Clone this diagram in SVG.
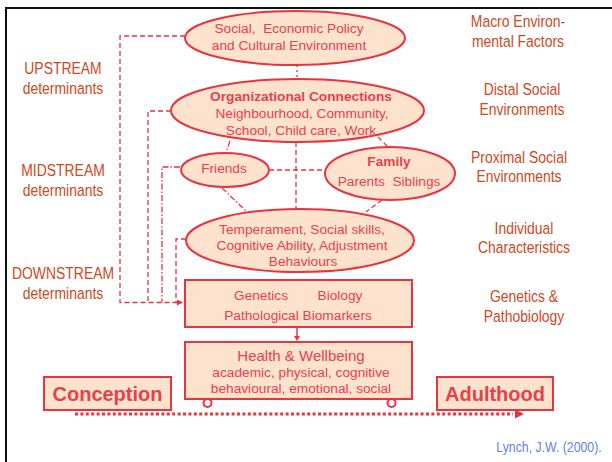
<svg xmlns="http://www.w3.org/2000/svg" width="612" height="462" viewBox="0 0 612 462">
<style>
.shape{fill:#FDE3CD;stroke:#E8343F;stroke-width:2}
.nt{font-family:"Liberation Sans",Arial,sans-serif;font-size:13.7px;fill:#E8404C;text-anchor:middle;white-space:pre}
.b{font-weight:bold}
.lab{font-family:"Liberation Sans",Arial,sans-serif;font-size:17px;fill:#D0481C;text-anchor:middle}
.dash{fill:none;stroke:#E8343F;stroke-width:1.3;stroke-dasharray:5 3}
.dd{fill:none;stroke:#E8343F;stroke-width:1.3;stroke-dasharray:6 2 1.5 2}
</style>
<defs>
<marker id="ah" markerWidth="6" markerHeight="6" refX="5" refY="3" orient="auto" markerUnits="userSpaceOnUse">
<path d="M0,0 L6,3 L0,6 Z" fill="#E8343F"/>
</marker>
</defs>
<rect width="612" height="462" fill="#fff"/>
<path d="M6,462 L6,8 L612,8" fill="none" stroke="#111" stroke-width="2"/>

<g id="left-labels">
<text class="lab" transform="translate(63,74) scale(0.82,1)">UPSTREAM</text>
<text class="lab" transform="translate(63,94) scale(0.82,1)">determinants</text>
<text class="lab" transform="translate(63,176) scale(0.82,1)">MIDSTREAM</text>
<text class="lab" transform="translate(63,196) scale(0.82,1)">determinants</text>
<text class="lab" transform="translate(63,279) scale(0.82,1)">DOWNSTREAM</text>
<text class="lab" transform="translate(63,299) scale(0.82,1)">determinants</text>
</g>
<g id="right-labels">
<text class="lab" transform="translate(518,27) scale(0.82,1)">Macro Environ-</text>
<text class="lab" transform="translate(518,47) scale(0.82,1)">mental Factors</text>
<text class="lab" transform="translate(522,95) scale(0.82,1)">Distal Social</text>
<text class="lab" transform="translate(522,115) scale(0.82,1)">Environments</text>
<text class="lab" transform="translate(519,163) scale(0.82,1)">Proximal Social</text>
<text class="lab" transform="translate(519,182) scale(0.82,1)">Environments</text>
<text class="lab" transform="translate(524,234) scale(0.82,1)">Individual</text>
<text class="lab" transform="translate(524,253) scale(0.82,1)">Characteristics</text>
<text class="lab" transform="translate(524,302) scale(0.82,1)">Genetics &amp;</text>
<text class="lab" transform="translate(524,322) scale(0.82,1)">Pathobiology</text>
</g>

<g id="connectors">
<path class="dash" d="M185,36 H120 V302.5 H182" marker-end="url(#ah)"/>
<path class="dash" d="M171,111 H148 V302.5"/>
<path class="dd" d="M180,167 H162 V302.5"/>
<path class="dash" d="M186,239 H176 V302.5"/>
<path fill="none" stroke="#E8343F" stroke-width="1.3" stroke-dasharray="2 3" d="M297,65 V79"/>
<path class="dash" d="M296,142 V209"/>
<path class="dash" d="M269,170 H325"/>
<path class="dd" d="M230,141 L226,153"/>
<path class="dash" d="M378,137 L388,147"/>
<path class="dd" d="M222,188 L246,211"/>
<path class="dash" d="M382,200 L366,212"/>
<path fill="none" stroke="#E8343F" stroke-width="1.5" d="M297,327 V337"/>
<path d="M294,336 L300,336 L297,341 Z" fill="#E8343F"/>
<path fill="none" stroke="#E8343F" stroke-width="3" stroke-dasharray="3 2.4" d="M75,414 H513"/>
<path d="M515,409.5 L524,414 L515,418.5 Z" fill="#E8343F"/>
</g>

<g id="macro">
<ellipse class="shape" cx="295" cy="38" rx="110" ry="27"/>
<text class="nt" x="289" y="33" xml:space="preserve">Social,  Economic Policy</text>
<text class="nt" x="289" y="50">and Cultural Environment</text>
</g>
<g id="org">
<ellipse class="shape" cx="297.5" cy="110.5" rx="126.5" ry="31.5"/>
<text class="nt b" x="301" y="101">Organizational Connections</text>
<text class="nt" x="302" y="118">Neighbourhood, Community,</text>
<text class="nt" x="301" y="135">School, Child care, Work</text>
</g>
<g id="friends">
<ellipse class="shape" cx="225" cy="170" rx="44" ry="17"/>
<text class="nt" x="224" y="173">Friends</text>
</g>
<g id="family">
<ellipse class="shape" cx="390" cy="173.5" rx="65" ry="26.5"/>
<text class="nt b" x="389" y="166">Family</text>
<text class="nt" x="389" y="186" xml:space="preserve">Parents  Siblings</text>
</g>
<g id="individual">
<ellipse class="shape" cx="300" cy="240.5" rx="114" ry="31.5"/>
<text class="nt" x="302" y="234">Temperament, Social skills,</text>
<text class="nt" x="302" y="250">Cognitive Ability, Adjustment</text>
<text class="nt" x="303" y="266">Behaviours</text>
</g>
<g id="genetics">
<rect class="shape" x="185" y="280" width="227" height="47"/>
<text class="nt" x="261" y="300">Genetics</text>
<text class="nt" x="340" y="300">Biology</text>
<text class="nt" x="298" y="320">Pathological Biomarkers</text>
</g>
<g id="health">
<rect class="shape" x="185" y="342" width="227" height="57"/>
<text class="nt" x="301" y="361" style="font-size:15px">Health &amp; Wellbeing</text>
<text class="nt" x="301" y="377">academic, physical, cognitive</text>
<text class="nt" x="301" y="393">behavioural, emotional, social</text>
</g>
<g id="conception">
<rect class="shape" x="44" y="377" width="127" height="33"/>
<text class="nt b" x="107.5" y="401" style="font-size:20px">Conception</text>
</g>
<g id="adulthood">
<rect class="shape" x="437" y="377" width="116" height="33"/>
<text class="nt b" x="495" y="401" style="font-size:20px">Adulthood</text>
</g>
<g id="markers">
<circle cx="207.5" cy="403" r="4" fill="#fff" stroke="#E8343F" stroke-width="2"/>
<circle cx="391.5" cy="403" r="4" fill="#fff" stroke="#E8343F" stroke-width="2"/>
</g>
<text transform="translate(549,452) scale(0.82,1)" style="font-family:'Liberation Sans',Arial,sans-serif;font-size:15px;fill:#5F84E6;text-anchor:middle">Lynch, J.W. (2000).</text>
</svg>
